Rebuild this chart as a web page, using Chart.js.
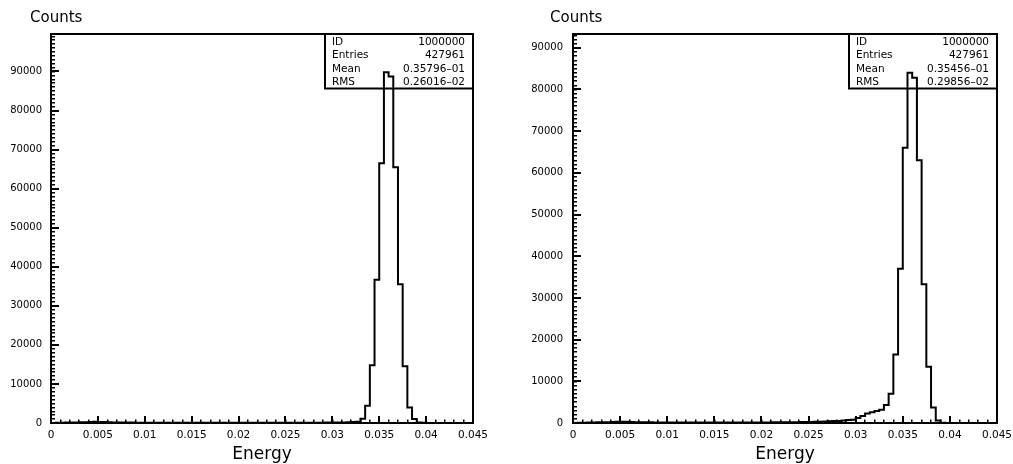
<!DOCTYPE html>
<html>
<head>
<meta charset="utf-8">
<title>Energy histograms</title>
<script src="https://cdn.jsdelivr.net/npm/chart.js@4.4.1/dist/chart.umd.min.js"></script>
<style>
  html, body { margin: 0; background: #fff; }
  body { width: 1013px; height: 464px; position: relative; overflow: hidden; }
  canvas { position: absolute; top: 0; }
  #left { left: 0; }
  #right { left: 506px; }
</style>
</head>
<body>
<canvas id="left" width="506" height="464"></canvas>
<canvas id="right" width="507" height="464"></canvas>
<script>
// Two HBOOK-style energy histograms, 90 bins of 0.0005 from 0 to 0.045.
// Each bin count is drawn as a stepped line starting at the bin's lower edge.
const BIN_WIDTH = 0.0005;
const X_MAX = 0.045;

// labelled (major) ticks; minor ticks are every 0.001 / 1000 counts
const X_TICKS = [0, 0.005, 0.01, 0.015, 0.02, 0.025, 0.03, 0.035, 0.04, 0.045];
const Y_TICKS = [0, 10000, 20000, 30000, 40000, 50000, 60000, 70000, 80000, 90000];

const LEFT_Y_MAX = 99600;
const RIGHT_Y_MAX = 93300;

const leftCounts = [
  20, 60, 90, 110, 130, 150, 170, 200, 260, 300,
  280, 230, 190, 160, 140, 120, 110, 100, 95, 90,
  85, 80, 80, 75, 75, 70, 70, 70, 65, 65,
  65, 60, 60, 60, 60, 60, 60, 60, 60, 60,
  60, 60, 60, 60, 60, 60, 60, 60, 60, 60,
  65, 65, 70, 70, 75, 80, 85, 90, 100, 110,
  120, 140, 160, 190, 250,
  300, 1100, 4400, 14800, 36700,
  66500, 89800, 88700, 65500, 35500,
  14500, 4000, 1000, 120, 40,
  20, 10, 10, 5, 5, 0, 0, 0, 0, 0,
];

const rightCounts = [
  20, 50, 80, 110, 140, 160, 180, 200, 240, 280,
  300, 270, 230, 200, 180, 160, 150, 140, 130, 120,
  115, 110, 105, 100, 100, 100, 100, 100, 100, 100,
  100, 100, 105, 110, 110, 115, 120, 120, 125, 130,
  135, 140, 150, 160, 170, 180, 190, 200, 215, 230,
  250, 280, 300, 350, 400, 450, 500, 600, 700, 800,
  1200, 1700, 2300, 2600, 2900, 3200, 4300, 7000, 16400, 37000,
  66000, 84000, 82800, 63000, 33300, 13500, 3700, 600, 50, 20,
  10, 5, 5, 0, 0, 0, 0, 0, 0, 0,
];

const leftStats = [
  ["ID", "1000000"],
  ["Entries", "427961"],
  ["Mean", "0.35796\u201301"],
  ["RMS", "0.26016\u201302"],
];
const rightStats = [
  ["ID", "1000000"],
  ["Entries", "427961"],
  ["Mean", "0.35456\u201301"],
  ["RMS", "0.29856\u201302"],
];

Chart.defaults.font.family = '"DejaVu Sans", sans-serif';
Chart.defaults.color = "#000";

// evenly spaced tick positions for the unlabelled minor ticks
function steps(step, max) {
  const out = [];
  for (let i = 0; i * step <= max + 1e-9; i++) out.push(+(i * step).toFixed(6));
  return out;
}

// HBOOK decorations: the "Counts" label over the y axis and the statistics
// box hanging from the top-right corner of the frame.
const hbookBox = {
  id: "hbookBox",
  afterDraw(chart, _args, opts) {
    const { ctx, chartArea: { top, left: areaLeft, right } } = chart;
    ctx.save();
    ctx.fillStyle = "#000";
    ctx.textBaseline = "middle";
    ctx.textAlign = "left";
    ctx.font = '15px "DejaVu Sans"';
    ctx.fillText(opts.yTitle, areaLeft - opts.yTitleInset, 18.5);

    const left = right - 148;
    const bottom = top + 54.5;
    ctx.strokeStyle = "#000";
    ctx.lineWidth = 2;
    ctx.beginPath();
    ctx.moveTo(left, top);
    ctx.lineTo(left, bottom);
    ctx.lineTo(right, bottom);
    ctx.stroke();
    ctx.font = '10.5px "DejaVu Sans"';
    opts.rows.forEach(([name, value], i) => {
      const y = top + 8 + i * 13.4;
      ctx.textAlign = "left";
      ctx.fillText(name, left + 7, y);
      ctx.textAlign = "right";
      ctx.fillText(value, right - 8, y);
    });
    ctx.restore();
  },
};

function makeHistogram(canvasId, counts, yMax, stats, pad, yLabelPad) {
  const points = counts.map((c, i) => ({ x: +(i * BIN_WIDTH).toFixed(4), y: c }));
  points.push({ x: X_MAX, y: 0 }); // close the last bin

  const fixTicks = (values) => (scale) => {
    scale.ticks = values.map((value) => ({ value }));
  };
  // pin axis box sizes so the frame lands where the reference has it
  const size = (key, v) => (scale) => {
    scale[key] = v;
    scale.paddingLeft = scale.paddingRight = scale.paddingTop = scale.paddingBottom = 0;
  };
  const edge = { display: true, color: "#000", width: 2 };
  const noEdge = { display: false };
  // negative tickLength puts the tick marks inside the frame
  const tickGrid = (len, w) => ({
    drawOnChartArea: false, drawTicks: true, tickLength: -len, color: "#000", lineWidth: w,
  });
  const plainGrid = { drawOnChartArea: false, drawTicks: false };
  const xRange = { type: "linear", min: 0, max: X_MAX, bounds: "data" };
  const yRange = { type: "linear", min: 0, max: yMax, bounds: "data" };

  return new Chart(document.getElementById(canvasId), {
    type: "line",
    data: {
      datasets: [{
        data: points,
        stepped: "before",
        borderColor: "#000",
        borderWidth: 2,
        pointRadius: 0,
        fill: false,
        xAxisID: "x",
        yAxisID: "y",
      }],
    },
    plugins: [hbookBox],
    options: {
      responsive: false,
      animation: false,
      events: [],
      layout: { padding: { left: 0, right: pad.right, top: 34, bottom: 0 }, autoPadding: false },
      plugins: {
        legend: { display: false },
        tooltip: { enabled: false },
        hbookBox: { rows: stats, yTitle: "Counts", yTitleInset: pad.titleInset },
      },
      scales: {
        xMinor: {
          ...xRange, position: "bottom", weight: 0,
          afterBuildTicks: fixTicks(steps(0.001, X_MAX)), afterFit: size("height", 0),
          grid: tickGrid(3.5, 1.5), border: noEdge, ticks: { display: false },
        },
        x: {
          ...xRange, position: "bottom", weight: 1,
          afterBuildTicks: fixTicks(X_TICKS), afterFit: size("height", 41),
          grid: tickGrid(7, 2), border: edge,
          ticks: {
            color: "#000", font: { size: 10.5 }, padding: 12.5,
            maxRotation: 0, autoSkip: false, callback: (v) => String(v),
          },
          title: {
            display: true, text: "Energy", color: "#000",
            font: { size: 17, lineHeight: 1 }, padding: { top: 0, bottom: 1 },
          },
        },
        xTop: {
          ...xRange, position: "top", afterFit: size("height", 0),
          grid: plainGrid, border: edge, ticks: { display: false },
        },
        yMinor: {
          ...yRange, position: "left", weight: 0,
          afterBuildTicks: fixTicks(steps(1000, yMax)), afterFit: size("width", 0),
          grid: tickGrid(4, 1.5), border: noEdge, ticks: { display: false },
        },
        y: {
          ...yRange, position: "left", weight: 1,
          afterBuildTicks: fixTicks(Y_TICKS), afterFit: size("width", pad.axis),
          grid: tickGrid(8, 2), border: edge,
          ticks: { color: "#000", font: { size: 10 }, padding: yLabelPad, autoSkip: false, callback: (v) => String(v) },
        },
        yRight: {
          ...yRange, position: "right", afterFit: size("width", 0),
          grid: plainGrid, border: edge, ticks: { display: false },
        },
      },
    },
  });
}

makeHistogram("left", leftCounts, LEFT_Y_MAX, leftStats, { axis: 51, right: 33, titleInset: 21 }, 17);
makeHistogram("right", rightCounts, RIGHT_Y_MAX, rightStats, { axis: 67, right: 16, titleInset: 23 }, 18);
</script>
</body>
</html>
